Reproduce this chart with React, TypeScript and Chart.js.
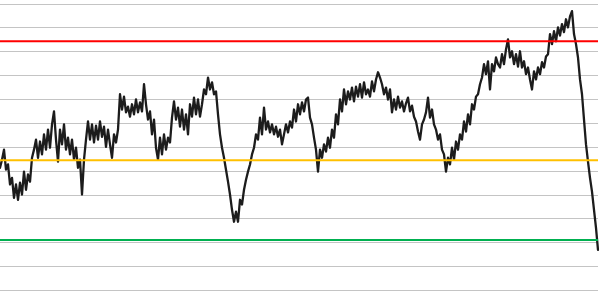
import React, { useEffect, useRef } from "react";
import Chart from "chart.js/auto";

// Closing values (arbitrary index units), one every trading step
const closeValues: number[] = [
  1257, 1274, 1295, 1253, 1264, 1222, 1236, 1194, 1222, 1190,
  1226, 1201, 1249, 1211, 1243, 1228, 1278, 1295, 1316, 1278,
  1312, 1285, 1327, 1295, 1337, 1299, 1348, 1375, 1316, 1270,
  1337, 1306, 1348, 1295, 1320, 1285, 1316, 1274, 1299, 1257,
  1274, 1201, 1274, 1316, 1354, 1316, 1348, 1310, 1345, 1316,
  1354, 1322, 1343, 1301, 1337, 1306, 1278, 1327, 1310, 1337,
  1411, 1379, 1406, 1373, 1385, 1364, 1390, 1369, 1400, 1373,
  1394, 1375, 1432, 1390, 1358, 1375, 1327, 1358, 1299, 1274,
  1320, 1285, 1327, 1295, 1320, 1310, 1362, 1396, 1358, 1383,
  1343, 1379, 1337, 1369, 1327, 1390, 1364, 1404, 1369, 1400,
  1364, 1390, 1421, 1411, 1446, 1421, 1436, 1411, 1417, 1369,
  1327, 1299, 1278, 1253, 1228, 1201, 1169, 1144, 1165, 1144,
  1190, 1180, 1211, 1232, 1249, 1264, 1285, 1299, 1327, 1316,
  1362, 1327, 1383, 1337, 1354, 1331, 1348, 1327, 1343, 1322,
  1337, 1306, 1327, 1348, 1331, 1354, 1341, 1379, 1354, 1390,
  1369, 1394, 1375, 1400, 1404, 1362, 1348, 1320, 1295, 1249,
  1295, 1278, 1306, 1291, 1320, 1299, 1337, 1320, 1369, 1348,
  1400, 1375, 1421, 1390, 1417, 1400, 1425, 1396, 1427, 1406,
  1432, 1404, 1436, 1411, 1421, 1406, 1438, 1417, 1442, 1457,
  1446, 1432, 1411, 1425, 1400, 1421, 1373, 1400, 1379, 1406,
  1383, 1396, 1375, 1392, 1404, 1375, 1387, 1364, 1354, 1333,
  1316, 1348, 1358, 1373, 1404, 1362, 1379, 1348, 1337, 1316,
  1327, 1295, 1285, 1249, 1278, 1264, 1299, 1274, 1312, 1295,
  1327, 1316, 1354, 1333, 1369, 1348, 1390, 1379, 1406, 1411,
  1432, 1446, 1474, 1453, 1480, 1421, 1474, 1459, 1488, 1474,
  1467, 1495, 1474, 1505, 1526, 1488, 1501, 1474, 1495, 1469,
  1501, 1467, 1480, 1453, 1467, 1442, 1421, 1459, 1442, 1467,
  1453, 1478, 1467, 1490, 1495, 1537, 1516, 1543, 1522, 1551,
  1534, 1558, 1541, 1568, 1551, 1574, 1585, 1537, 1516, 1488,
  1442, 1411, 1358, 1306, 1270, 1236, 1207, 1169, 1131, 1085,
];

// Horizontal reference levels
const resistanceLevel = 1522;
const pivotLevel = 1273;
const supportLevel = 1106;

// Hidden value axis range and grid step
const axisMin = 1000;
const axisMax = 1600;
const axisStep = 50;

const labels: string[] = closeValues.map((_, i) => String(i + 1));

export default function App() {
  const canvasRef = useRef<HTMLCanvasElement | null>(null);

  useEffect(() => {
    const canvas = canvasRef.current;
    if (!canvas) return;
    const flat = (v: number) => labels.map(() => v);
    const level = (label: string, v: number, color: string) => ({
      label,
      data: flat(v),
      borderColor: color,
      borderWidth: 2,
      pointRadius: 0,
      tension: 0,
    });
    const chart = new Chart(canvas, {
      type: "line",
      data: {
        labels,
        datasets: [
          level("Resistance", resistanceLevel, "#ff0000"),
          level("Pivot", pivotLevel, "#ffc000"),
          level("Support", supportLevel, "#00b050"),
          {
            label: "Close",
            data: closeValues,
            borderColor: "#1c1c1c",
            borderWidth: 2.3,
            borderJoinStyle: "round",
            borderCapStyle: "round",
            pointRadius: 0,
            tension: 0,
          },
        ],
      },
      options: {
        animation: false,
        responsive: false,
        maintainAspectRatio: false,
        layout: { padding: { top: 4, bottom: 9.5, left: 0, right: 2 } },
        plugins: { legend: { display: false }, tooltip: { enabled: false } },
        scales: {
          x: { display: false },
          y: {
            min: axisMin,
            max: axisMax,
            ticks: { display: false, stepSize: axisStep },
            border: { display: false },
            grid: { color: "#c4c4c4", lineWidth: 1, drawTicks: false },
          },
        },
      },
    });
    return () => chart.destroy();
  }, []);

  return (
    <div style={{ position: "absolute", left: 0, top: 0, width: 600, height: 300, background: "#fff" }}>
      <canvas ref={canvasRef} width={600} height={300} />
    </div>
  );
}
